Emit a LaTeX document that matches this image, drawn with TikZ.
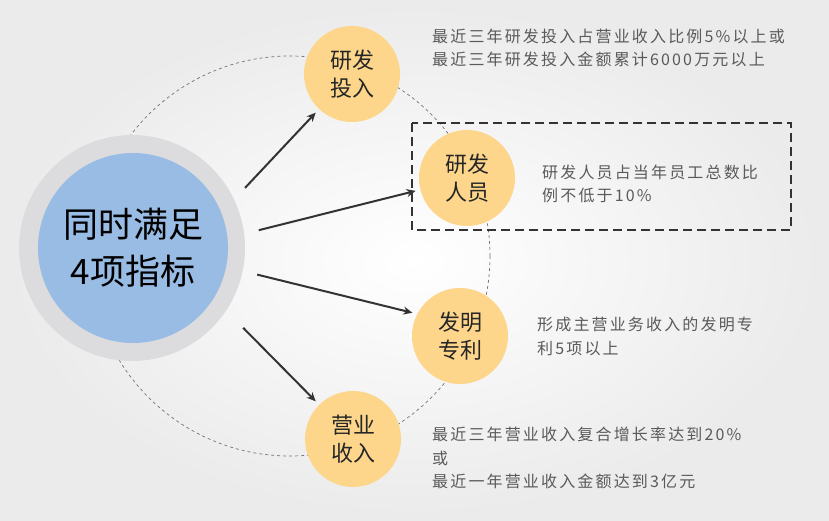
\documentclass[tikz,border=0pt]{standalone}
\usepackage{fontspec}
\usetikzlibrary{arrows.meta,shapes.geometric}
\newfontfamily\cjk{Noto Sans CJK SC}
\newfontfamily\cjkt[LetterSpace=13.5]{Noto Sans CJK SC}
\definecolor{ringgray}{HTML}{DCDCDE}
\definecolor{mainblue}{HTML}{99BCE4}
\definecolor{orangefill}{HTML}{FDD68C}
\definecolor{txtgray}{HTML}{5A5A5A}
\definecolor{darkline}{HTML}{333333}
\tikzset{
  ringnode/.style={circle,fill=ringgray,minimum size=226pt,inner sep=0pt,outer sep=15pt},
  mainnode/.style={circle,fill=mainblue,minimum size=190pt,inner sep=0pt,align=center,
    font=\cjk\fontsize{35}{47}\selectfont,text=black},
  itemnode/.style={circle,fill=orangefill,minimum size=96pt,inner sep=0pt,outer sep=5pt,
    align=center,font=\cjk\fontsize{22}{28}\selectfont,text=black!85},
  desc/.style={anchor=west,align=left,inner sep=0pt,font=\cjkt\fontsize{16}{23.5}\selectfont,text=txtgray},
  arr/.style={draw=darkline,line width=2pt,-{Stealth[length=9pt,width=8pt]}},
  guide/.style={draw=black!55,line width=0.7pt,dash pattern=on 3pt off 3pt},
  boxline/.style={draw=darkline,line width=1.8pt,dash pattern=on 9pt off 5pt}
}
\begin{document}
\begin{tikzpicture}[x=1pt,y=-1pt]
\useasboundingbox (0,0) rectangle (829,521);
\shade[inner color=white,outer color=black!8] (0,0) rectangle (829,521);
% guide circle
\draw[guide] (290,256) circle[radius=200];
% central node
\node[ringnode] (ring) at (132,248) {};
\node[mainnode] (main) at (133,248) {同时满足\\4项指标};
% items
\node[itemnode] (a) at (352,74) {研发\\投入};
\node[itemnode] (b) at (467,178) {研发\\人员};
\node[itemnode] (c) at (460,336) {发明\\专利};
\node[itemnode] (d) at (353,439) {营业\\收入};
% arrows
\draw[arr] (ring.28) -- (a);
\draw[arr] (ring.8) -- (b);
\draw[arr] (ring.-12) -- (c.154);
\draw[arr,shorten <=9pt] (ring.-35) -- (d);
% dashed box
\coordinate (bx1) at (412,123);
\coordinate (bx2) at (791,230);
\draw[boxline] (bx1) rectangle (bx2);
% descriptions
\node[desc] (ta) at (432,48) {最近三年研发投入占营业收入比例5\%以上或\\最近三年研发投入金额累计6000万元以上};
\node[desc] (tb) at (542,184) {研发人员占当年员工总数比\\例不低于10\%};
\node[desc] (tc) at (537,336.5) {形成主营业务收入的发明专\\利5项以上};
\node[desc] (td) at (432,458) {最近三年营业收入复合增长率达到20\%\\或\\最近一年营业收入金额达到3亿元};
\end{tikzpicture}
\end{document}
